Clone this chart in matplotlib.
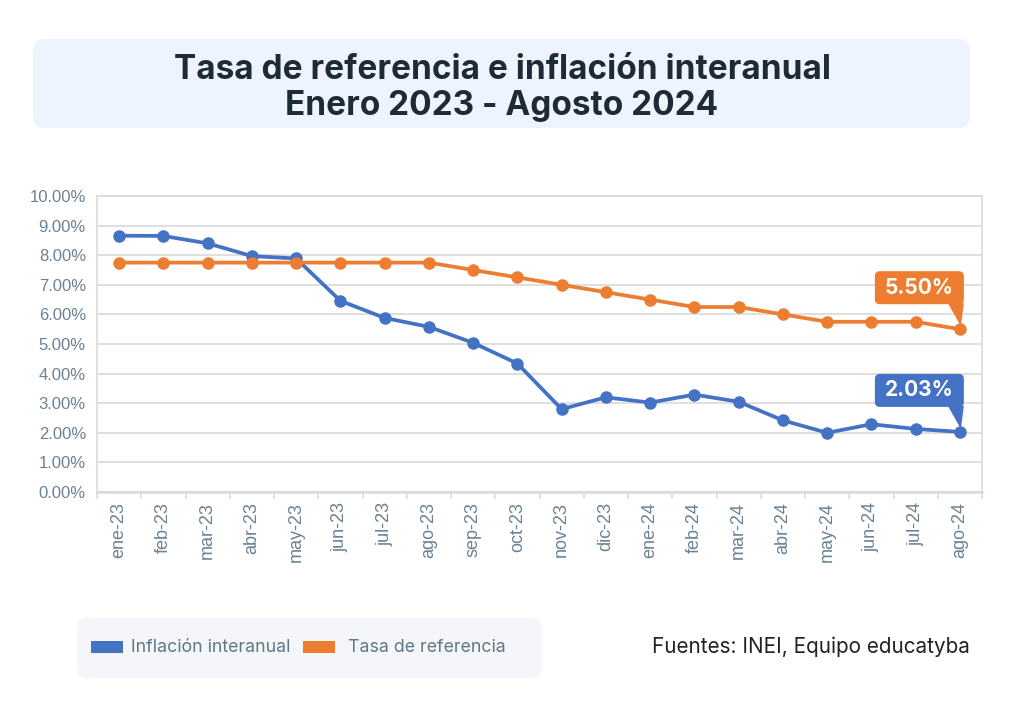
import matplotlib
matplotlib.use("Agg")
import matplotlib.pyplot as plt
from matplotlib.patches import FancyBboxPatch, Polygon, Rectangle
from matplotlib.transforms import IdentityTransform
from matplotlib.ticker import FuncFormatter, MultipleLocator, FixedLocator
import numpy as np

months = ["ene-23", "feb-23", "mar-23", "abr-23", "may-23", "jun-23", "jul-23",
          "ago-23", "sep-23", "oct-23", "nov-23", "dic-23", "ene-24", "feb-24",
          "mar-24", "abr-24", "may-24", "jun-24", "jul-24", "ago-24"]
inflacion = [8.66, 8.65, 8.40, 7.97, 7.89, 6.46, 5.88, 5.58, 5.04, 4.34, 2.80,
             3.20, 3.02, 3.29, 3.05, 2.42, 2.00, 2.29, 2.13, 2.03]
tasa = [7.75, 7.75, 7.75, 7.75, 7.75, 7.75, 7.75, 7.75, 7.50, 7.25, 7.00,
        6.75, 6.50, 6.25, 6.25, 6.00, 5.75, 5.75, 5.75, 5.50]
series_names = ["Inflación interanual", "Tasa de referencia"]
title_lines = ["Tasa de referencia e inflación interanual", "Enero 2023 - Agosto 2024"]
source_text = "Fuentes: INEI, Equipo educatyba"

BLUE = "#4472c4"
ORANGE = "#ed7d31"
TICK_C = "#6a8293"
GRID_C = "#d9d9d9"
TITLE_C = "#1e2b36"
TICK_FONT = ["Liberation Sans", "DejaVu Sans"]
UI_FONT = ["Inter", "DejaVu Sans"]

W, H = 1024, 712
fig = plt.figure(figsize=(W / 100, H / 100), dpi=100)
fig.patch.set_facecolor("white")

def py(y):  # image y (top-down) -> display y
    return H - y

# Title box
fig.patches.append(FancyBboxPatch((33, py(128)), 937, 89,
                                  boxstyle="round,pad=0,rounding_size=12",
                                  transform=IdentityTransform(), facecolor="#eef4fd",
                                  edgecolor="none", zorder=0))
fig.text(502 / W, 1 - 70 / H, title_lines[0], ha="center", va="center",
         fontsize=24, fontweight="bold", color=TITLE_C, family=UI_FONT)
fig.text(502 / W, 1 - 106 / H, title_lines[1], ha="center", va="center",
         fontsize=24, fontweight="bold", color=TITLE_C, family=UI_FONT)

# Axes
left, right, top, bottom = 97, 982, 196, 492
ax = fig.add_axes([left / W, 1 - bottom / H, (right - left) / W, (bottom - top) / H])
x = np.arange(len(months))
ax.set_xlim(-0.5, len(months) - 0.5)
ax.set_ylim(0, 10)

ax.yaxis.set_major_locator(MultipleLocator(1))
ax.yaxis.set_major_formatter(FuncFormatter(lambda v, p: f"{v:.2f}%"))
ax.grid(axis="y", color=GRID_C, lw=1.2, zorder=0)
ax.set_axisbelow(True)
for s in ax.spines.values():
    s.set_color("#d5dbe1")
    s.set_linewidth(1.2)
ax.spines["bottom"].set_linewidth(1.8)

ax.set_xticks(x)
ax.set_xticklabels(months, rotation=90, fontsize=13, color=TICK_C, family=TICK_FONT)
ax.xaxis.set_minor_locator(FixedLocator(np.arange(-0.5, len(months), 1.0)))
ax.tick_params(axis="x", which="major", length=0, pad=7)
ax.tick_params(axis="x", which="minor", length=5, color="#d5dbe1", width=1.2)
ax.tick_params(axis="y", length=0, pad=8, labelsize=12, labelcolor=TICK_C)
for lab in ax.get_yticklabels():
    lab.set_family(TICK_FONT)

ax.plot(x, inflacion, color=BLUE, lw=2.7, marker="o", ms=8, zorder=3)
ax.plot(x, tasa, color=ORANGE, lw=2.7, marker="o", ms=8, zorder=3)

# Callouts
fig.canvas.draw()
def callout(xi, yi, text, color):
    px_, py_ = ax.transData.transform((xi, yi))
    bx0, bx1 = px_ - 85, px_ + 4
    by0 = py_ + 25
    by1 = py_ + 58
    fig.patches.append(FancyBboxPatch((bx0, by0), bx1 - bx0, by1 - by0,
                                      boxstyle="round,pad=0,rounding_size=5",
                                      transform=IdentityTransform(), facecolor=color,
                                      edgecolor="none", zorder=5))
    fig.patches.append(Polygon([(bx1 - 16, by0 + 1), (bx1, by0 + 1), (px_ + 1, py_ + 3)],
                               closed=True, transform=IdentityTransform(),
                               facecolor=color, edgecolor="none", zorder=5))
    fig.text((bx0 + bx1) / 2 / W, (by0 + by1) / 2 / H, text, ha="center", va="center",
             color="white", fontsize=15, fontweight="bold", family=UI_FONT,
             zorder=6)

callout(x[-1], tasa[-1], f"{tasa[-1]:.2f}%", ORANGE)
callout(x[-1], inflacion[-1], f"{inflacion[-1]:.2f}%", BLUE)

# Legend box
fig.patches.append(FancyBboxPatch((77, py(678)), 465, 60,
                                  boxstyle="round,pad=0,rounding_size=10",
                                  transform=IdentityTransform(), facecolor="#f4f6f9",
                                  edgecolor="none", zorder=0))
for (x0, tx, col, name) in [(91, 131, BLUE, series_names[0]), (303, 348, ORANGE, series_names[1])]:
    fig.patches.append(Rectangle((x0, py(653)), 32, 12, transform=IdentityTransform(),
                                 facecolor=col, edgecolor="none", zorder=1))
    fig.text(tx / W, 1 - 647 / H, name, ha="left", va="center", fontsize=12.8,
             color="#5f7788", family=UI_FONT)

fig.text(970 / W, 1 - 647 / H, source_text, ha="right", va="center", fontsize=14.9,
         color="#222222", family=UI_FONT)

fig.savefig("out.png", dpi=100)
